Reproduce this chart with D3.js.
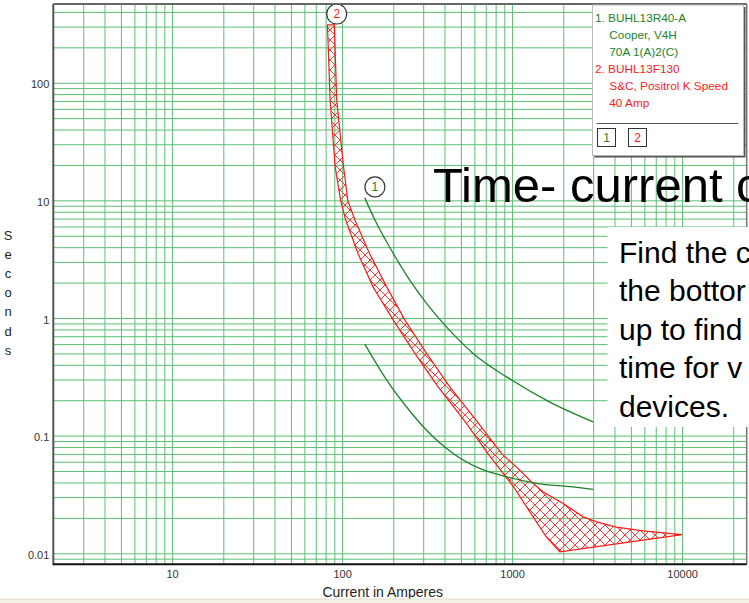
<!DOCTYPE html>
<html>
<head>
<meta charset="utf-8">
<script src="https://cdn.jsdelivr.net/npm/d3@7"></script>
<style>
  body { margin: 0; background: #fff; }
  svg { display: block; font-family: Arial, "Liberation Sans", sans-serif; }
</style>
</head>
<body>
<svg id="tcc" width="749" height="603"></svg>
<script>
// device 2: S&C Positrol K speed 40A fuse band (minimum melt / total clearing)
const meltAmps  = [82, 85, 91, 98, 105, 124, 152, 200, 268, 367, 520, 719, 1020, 1330, 1590, 1910];
const meltSecs  = [310, 71, 19.3, 10, 6.8, 3.54, 1.84, 0.96, 0.5, 0.26, 0.136, 0.0706, 0.0367, 0.0204, 0.0138, 0.0103];
const clearAmps = [90, 93, 102, 108, 119, 145, 183, 234, 314, 430, 612, 866, 1110, 1300, 1520, 2000, 2620, 3140, 4110, 5900, 10000];
const clearSecs = [310, 71, 19.3, 10, 6.8, 3.54, 1.84, 0.96, 0.5, 0.26, 0.136, 0.0706, 0.0509, 0.0404, 0.0333, 0.0265, 0.0204, 0.0185, 0.0167, 0.0155, 0.0144];

// device 1: Cooper V4H recloser, two curves
const hiAmps = [136, 156, 200, 250, 314, 411, 590, 927, 1667, 3000];
const hiSecs = [10.5, 6.8, 3.54, 2.1, 1.33, 0.84, 0.5, 0.316, 0.193, 0.131];
const loAmps = [136, 183, 239, 314, 450, 646, 927, 1390, 2285, 3000];
const loSecs = [0.6, 0.297, 0.176, 0.111, 0.0706, 0.0526, 0.0447, 0.0393, 0.0367, 0.0349];

// curve number markers
const markerAmps = [156, 93];
const markerSecs = [13, 384];
const markerText = ["1", "2"];

const xTicks = [10, 100, 1000, 10000];
const yTicks = [0.01, 0.1, 1, 10, 100];

const legendLines = ["1. BUHL13R40-A", "Cooper, V4H", "70A 1(A)2(C)", "2. BUHL13F130", "S&C, Positrol K Speed", "40 Amp"];
const noteLines = ["Find the c", "the bottor", "up to find", "time for v", "devices."];

const svg = d3.select("#tcc");
const green = "#1d822a";
const red = "#ff1a1a";
const gridColor = "#5cbf73";

const x = d3.scaleLog().domain([2, 24000]).range([53.3, 746.7]);
const y = d3.scaleLog().domain([0.00806, 467]).range([564.3, 4]);
const [plotLeft, plotRight] = x.range();
const [plotBottom, plotTop] = y.range();

// grid lines on every 1..9 step of each decade
const gridX = [];
const gridY = [];
[0.001, 0.01, 0.1, 1, 10, 100, 1000, 10000].forEach(d => {
  d3.range(1, 10).forEach(m => {
    const v = +(d * m).toPrecision(3);
    if (v > 2 && v < 24000) gridX.push(v);
    if (v > 0.00806 && v < 467) gridY.push(v);
  });
});

svg.append("g")
  .attr("transform", `translate(0,${plotBottom})`)
  .call(d3.axisBottom(x).tickValues(gridX).tickSize(-(plotBottom - plotTop)).tickFormat(""))
  .call(g => g.select(".domain").remove())
  .selectAll("line").attr("stroke", gridColor).attr("stroke-width", 1);

svg.append("g")
  .attr("transform", `translate(${plotLeft},0)`)
  .call(d3.axisLeft(y).tickValues(gridY).tickSize(-(plotRight - plotLeft)).tickFormat(""))
  .call(g => g.select(".domain").remove())
  .selectAll("line").attr("stroke", gridColor).attr("stroke-width", 1);

// crosshatch for the fuse band
const defs = svg.append("defs");
defs.append("pattern")
  .attr("id", "hatch")
  .attr("patternUnits", "userSpaceOnUse")
  .attr("width", 10)
  .attr("height", 10)
  .append("path")
  .attr("d", "M0,0L10,10M10,0L0,10M-1,9L1,11M9,-1L11,1")
  .attr("stroke", "#ff3b3b")
  .attr("stroke-width", 1)
  .attr("fill", "none");

const band = meltAmps.map((a, i) => [a, meltSecs[i]])
  .concat(clearAmps.map((a, i) => [a, clearSecs[i]]).reverse());

svg.append("path")
  .datum(band)
  .attr("d", d3.line().x(d => x(d[0])).y(d => y(d[1])).curve(d3.curveLinearClosed))
  .attr("fill", "url(#hatch)")
  .attr("stroke", red)
  .attr("stroke-width", 1.2);

const curve = d3.line().x(d => x(d[0])).y(d => y(d[1])).curve(d3.curveMonotoneX);
[[hiAmps, hiSecs], [loAmps, loSecs]].forEach(([amps, secs]) => {
  svg.append("path")
    .datum(amps.map((a, i) => [a, secs[i]]))
    .attr("d", curve)
    .attr("fill", "none")
    .attr("stroke", green)
    .attr("stroke-width", 1.3);
});

const markers = svg.selectAll(".marker")
  .data(markerText)
  .join("g")
  .attr("class", "marker")
  .attr("transform", (d, i) => `translate(${x(markerAmps[i])},${y(markerSecs[i])})`);
markers.append("circle")
  .attr("r", 10)
  .attr("fill", "#fff")
  .attr("stroke", "#333")
  .attr("stroke-width", 1.2);
markers.append("text")
  .attr("text-anchor", "middle")
  .attr("dy", "0.36em")
  .attr("font-size", 12)
  .attr("fill", d => d === "1" ? green : red)
  .text(d => d);

// frame
svg.append("line").attr("x1", plotLeft).attr("x2", plotRight).attr("y1", plotTop).attr("y2", plotTop)
  .attr("stroke", "#666").attr("stroke-width", 2);
svg.append("line").attr("x1", plotRight).attr("x2", plotRight).attr("y1", plotTop).attr("y2", plotBottom)
  .attr("stroke", "#777").attr("stroke-width", 1.5);
svg.append("line").attr("x1", plotLeft).attr("x2", plotLeft).attr("y1", plotTop).attr("y2", plotBottom + 1)
  .attr("stroke", "#555").attr("stroke-width", 2);
svg.append("line").attr("x1", plotLeft).attr("x2", plotRight).attr("y1", plotBottom).attr("y2", plotBottom)
  .attr("stroke", "#111").attr("stroke-width", 2);

// tick labels
svg.append("g")
  .attr("transform", `translate(0,${plotBottom})`)
  .call(d3.axisBottom(x).tickValues(xTicks).tickSize(0).tickPadding(6).tickFormat(d3.format("~g")))
  .call(g => g.select(".domain").remove())
  .selectAll("text")
  .attr("font-size", 11)
  .attr("font-family", "Arial, 'Liberation Sans', sans-serif")
  .attr("fill", "#333");

svg.append("g")
  .attr("transform", `translate(${plotLeft},1.5)`)
  .call(d3.axisLeft(y).tickValues(yTicks).tickSize(0).tickPadding(4).tickFormat(d3.format("~g")))
  .call(g => g.select(".domain").remove())
  .selectAll("text")
  .attr("font-size", 11)
  .attr("font-family", "Arial, 'Liberation Sans', sans-serif")
  .attr("fill", "#333");

svg.append("text")
  .attr("x", 382.7)
  .attr("y", 592.3)
  .attr("dy", "0.35em")
  .attr("text-anchor", "middle")
  .attr("font-size", 14)
  .attr("fill", "#222")
  .text("Current in Amperes");

svg.append("g")
  .selectAll("text")
  .data("Seconds".split(""))
  .join("text")
  .attr("x", 8)
  .attr("y", (d, i) => 235 + i * 19.2)
  .attr("dy", "0.35em")
  .attr("text-anchor", "middle")
  .attr("font-size", 13)
  .attr("fill", "#222")
  .text(d => d);

// slide overlay: title and note box
svg.append("text")
  .attr("x", 433)
  .attr("y", 202)
  .attr("font-size", 49)
  .attr("fill", "#000")
  .text("Time- current c");

svg.append("rect")
  .attr("x", 607.5).attr("y", 227)
  .attr("width", 142).attr("height", 200)
  .attr("fill", "#fff");

svg.append("g")
  .selectAll("text")
  .data(noteLines)
  .join("text")
  .attr("x", 619)
  .attr("y", (d, i) => 262.7 + i * 38.5)
  .attr("font-size", 30)
  .attr("fill", "#000")
  .text(d => d);

// legend box
svg.append("rect")
  .attr("x", 594.5).attr("y", 7)
  .attr("width", 151).attr("height", 150.5)
  .attr("fill", "#555");
svg.append("rect")
  .attr("x", 592.5).attr("y", 5)
  .attr("width", 151).attr("height", 150.5)
  .attr("fill", "#fff")
  .attr("stroke", "#bbb");

svg.append("g")
  .selectAll("text")
  .data(legendLines)
  .join("text")
  .attr("x", (d, i) => (i === 0 || i === 3) ? 595 : 609.3)
  .attr("y", (d, i) => 17.5 + i * 17.1)
  .attr("dy", "0.35em")
  .attr("font-size", 11.8)
  .attr("fill", (d, i) => i < 3 ? green : red)
  .text(d => d);

svg.append("line")
  .attr("x1", 596.7).attr("x2", 738.3)
  .attr("y1", 123.5).attr("y2", 123.5)
  .attr("stroke", "#555");

const keys = svg.selectAll(".key")
  .data(markerText)
  .join("g")
  .attr("class", "key")
  .attr("transform", (d, i) => `translate(${597.5 + i * 31},128.5)`);
keys.append("rect")
  .attr("width", 18).attr("height", 18)
  .attr("fill", "#fff")
  .attr("stroke", "#333");
keys.append("text")
  .attr("x", 9).attr("y", 9)
  .attr("dy", "0.36em")
  .attr("text-anchor", "middle")
  .attr("font-size", 12)
  .attr("fill", d => d === "1" ? green : red)
  .text(d => d);

// bottom strip of the slide
svg.append("rect")
  .attr("x", 0).attr("y", 599)
  .attr("width", 749).attr("height", 4)
  .attr("fill", "#f4f1e6");
svg.append("line")
  .attr("x1", 0).attr("x2", 749)
  .attr("y1", 599).attr("y2", 599)
  .attr("stroke", "#e2ddcd");
</script>
</body>
</html>
